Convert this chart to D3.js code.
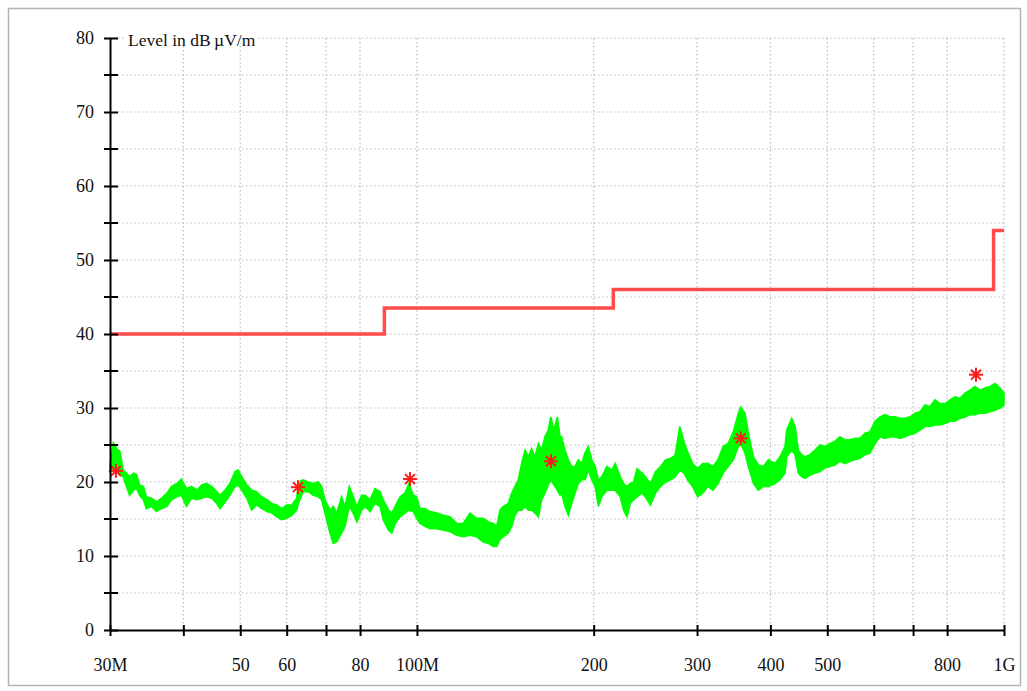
<!DOCTYPE html>
<html>
<head>
<meta charset="utf-8">
<script src="https://cdn.jsdelivr.net/npm/d3@7"></script>
<style>
  body { margin: 0; background: #fff; }
  text { font-family: "Liberation Serif", "Times New Roman", serif; }
</style>
</head>
<body>
<div id="chart"></div>
<script>
// x ticks (MHz) and their labels
var xTicks  = [30, 40, 50, 60, 70, 80, 100, 200, 300, 400, 500, 600, 700, 800, 1000];
var xLabels = ["30M", "", "50", "60", "", "80", "100M", "200", "300", "400", "500", "", "", "800", "1G"];
var yMajor = [0, 10, 20, 30, 40, 50, 60, 70, 80];
var yMinor = [5, 15, 25, 35, 45, 55, 65, 75];

// limit line (step after)
var limitFreq  = [30, 88, 216, 960, 1000];
var limitLevel = [40, 43.5, 46, 54, 54];

// final measurement points
var markerFreq  = [30.7, 62.7, 97.3, 169.2, 356.0, 896];
var markerLevel = [21.5, 19.3, 20.4, 22.8, 25.9, 34.5];

// preview scan, upper / lower envelope of the noisy trace
var traceFreq = [30.0, 30.4, 30.8, 31.2, 31.6, 32.0, 32.4, 32.9, 33.3, 33.7, 34.2, 34.6, 35.3, 36.0, 36.7, 37.5, 38.2, 39.0, 39.7, 40.5,
  41.3, 42.2, 43.0, 43.8, 44.7, 45.6, 46.2, 47.1, 48.0, 49.0, 49.6, 50.3, 51.3, 52.3, 53.3, 54.4, 55.5, 56.6, 57.7, 58.8,
  60.0, 61.2, 62.4, 62.8, 64.0, 65.3, 66.6, 67.9, 68.8, 69.7, 71.1,
  72.0, 73.0, 74.4, 75.4, 76.7, 77.9, 79.0, 80.5, 81.6, 83.2, 84.8, 86.5, 87.6, 89.4, 90.6, 91.8, 93.6, 95.4, 96.9, 98.6,
  99.9, 101.2, 103.2, 105.3, 108.1, 110.9, 113.8, 116.9, 119.9, 123.1, 126.4, 129.7, 132.3, 134.9, 136.7, 138.5, 140.3, 143.1, 145.0, 146.9,
  148.8, 150.8, 152.8, 154.8, 156.8, 158.9, 161.0, 163.1, 165.2, 167.4, 169.0, 171.2, 173.4, 175.3,
  176.4, 178.7, 181.1, 183.5, 185.9, 188.3, 190.8, 193.3, 195.8, 198.5, 201.1, 203.7, 206.4, 210.6, 214.8, 217.6, 222.0, 224.9, 227.9, 230.9,
  233.9, 237.0, 241.8, 244.9, 249.9, 254.9, 260.0, 265.3, 270.6, 275.2, 280.4, 285.1, 289.0, 294.8, 300.7, 306.8, 313.0, 319.3, 325.7, 332.3,
  339.0, 345.8, 352.8, 356.0, 362.0, 366.9, 374.2, 381.6, 389.1, 396.8, 407.3, 415.4, 423.6,
  426.4, 434.9, 440.6, 446.3, 452.3, 458.2, 467.3, 476.5, 486.0, 495.6, 505.4, 515.4, 525.6, 536.0, 546.6, 557.5, 568.5, 579.8, 591.2, 603.0,
  614.9, 627.1, 639.5, 652.2, 665.1, 678.2, 691.7, 705.4, 719.3, 733.6, 748.1, 762.9, 778.0, 793.5, 809.2, 825.2, 841.5, 858.2, 875.2, 892.6,
  910.2, 928.3, 946.6, 965.4, 984.5, 1000];
var traceMax = [22.6, 25.3, 24.5, 24.1, 21.6, 21.2, 20.7, 21.2, 21.0, 19.6, 19.4, 18.0, 17.8, 17.3, 17.8, 18.5, 19.4, 19.8, 20.4, 19.1,
  19.4, 18.9, 19.6, 19.8, 19.4, 18.7, 18.2, 18.9, 19.8, 21.4, 21.6, 20.7, 19.6, 18.9, 18.7, 18.0, 17.6, 17.1, 16.9, 16.4,
  16.9, 16.9, 17.8, 20.0, 20.3, 20.0, 19.8, 20.0, 19.4, 17.6, 16.2,
  16.7, 15.8, 18.0, 16.7, 19.4, 18.0, 16.7, 18.2, 18.2, 17.6, 19.1, 18.7, 17.6, 16.2, 15.8, 16.7, 18.0, 18.5, 19.8, 18.2,
  18.0, 16.4, 16.4, 16.0, 15.8, 15.5, 15.3, 14.4, 14.4, 15.8, 15.1, 15.1, 14.6, 14.4, 14.0, 16.2, 16.7, 17.1, 18.5, 19.4,
  20.3, 22.5, 24.3, 23.4, 24.5, 23.4, 25.2, 24.3, 26.1, 27.0, 28.8, 27.0, 28.8, 26.1,
  26.1, 24.3, 23.0, 22.1, 22.1, 23.0, 22.5, 23.9, 24.8, 23.0, 22.1, 20.3, 20.7, 22.1, 21.6, 22.5, 20.7, 19.8, 19.4, 19.8,
  20.0, 21.8, 21.2, 20.7, 19.8, 21.4, 22.1, 23.0, 23.2, 23.6, 27.5, 25.4, 24.1, 22.5, 21.8, 22.5, 22.5, 22.1, 23.0, 24.8,
  25.2, 26.8, 29.3, 30.1, 29.3, 26.6, 23.4, 22.3, 22.1, 23.0, 22.5, 23.4, 24.8,
  27.0, 28.6, 27.5, 24.3, 23.7, 23.4, 23.7, 24.3, 25.0, 24.8, 25.2, 25.5, 26.1, 25.7, 25.7, 25.9, 25.9, 26.6, 26.8, 28.2,
  28.8, 29.1, 28.8, 28.8, 28.6, 28.6, 28.8, 29.3, 29.5, 30.4, 30.2, 31.1, 30.6, 30.6, 31.1, 31.5, 31.3, 32.0, 32.4, 32.9,
  32.4, 32.7, 32.9, 33.3, 32.7, 32.0];
var traceMin = [21.2, 22.1, 21.6, 20.9, 20.7, 19.4, 18.2, 18.9, 19.1, 18.2, 17.6, 16.4, 16.7, 16.0, 16.4, 16.7, 17.6, 18.0, 18.2, 16.7,
  17.8, 17.6, 17.8, 18.0, 17.8, 17.1, 16.4, 17.3, 18.2, 19.4, 19.6, 18.9, 17.8, 16.2, 16.9, 16.4, 16.0, 15.8, 15.3, 14.9,
  15.1, 15.5, 16.2, 17.1, 18.7, 18.7, 18.2, 18.0, 17.6, 15.8, 13.1,
  11.7, 11.9, 13.1, 14.0, 16.7, 15.8, 14.6, 16.2, 16.7, 16.0, 17.1, 16.7, 14.9, 13.5, 13.1, 14.4, 15.3, 15.8, 16.2, 16.0,
  15.1, 14.4, 14.0, 13.7, 13.7, 13.5, 13.3, 12.8, 12.6, 12.8, 12.6, 11.9, 11.7, 11.3, 11.3, 12.2, 12.6, 13.1, 14.0, 15.5,
  16.2, 16.2, 16.7, 16.2, 16.2, 15.8, 15.3, 17.6, 18.5, 19.6, 20.3, 19.6, 18.9, 18.2,
  18.5, 16.7, 15.5, 17.1, 18.5, 19.8, 20.3, 20.3, 21.6, 20.3, 19.4, 16.7, 18.0, 18.9, 18.9, 18.9, 18.0, 16.2, 15.3, 17.1,
  17.6, 18.0, 18.5, 18.0, 16.9, 18.5, 19.4, 20.0, 20.3, 20.7, 21.6, 21.2, 20.3, 19.4, 18.0, 18.5, 19.4, 18.9, 19.8, 21.2,
  22.1, 23.0, 24.8, 25.2, 23.9, 22.1, 19.8, 18.9, 19.4, 19.4, 19.8, 20.3, 21.2,
  23.4, 24.3, 23.7, 21.2, 20.7, 20.5, 20.9, 21.2, 21.4, 21.9, 22.1, 22.3, 22.8, 22.5, 22.8, 23.0, 23.2, 23.7, 23.9, 25.2,
  26.1, 25.9, 26.1, 26.1, 25.9, 26.1, 26.4, 26.6, 27.0, 27.5, 27.5, 27.7, 27.7, 27.9, 28.2, 28.2, 28.6, 28.8, 29.1, 29.1,
  29.3, 29.3, 29.5, 29.7, 30.0, 30.4];

var W = 1027, H = 691;
var plotLeft = 110, plotRight = 1004, plotTop = 38, plotBottom = 630;

var svg = d3.select("#chart").append("svg")
  .attr("width", W).attr("height", H);

// outer frame
svg.append("rect")
  .attr("x", 8.5).attr("y", 8.5).attr("width", 1012).attr("height", 677)
  .attr("fill", "#fff").attr("stroke", "#b4b4b4").attr("stroke-width", 1.5);

var x = d3.scaleLog().domain([30, 1000]).range([plotLeft, plotRight]);
var y = d3.scaleLinear().domain([0, 80]).range([plotBottom, plotTop]);

// grid
var grid = svg.append("g").attr("stroke", "#bbbbbb").attr("stroke-width", 1.2)
  .attr("stroke-dasharray", "1.5,2.5");
grid.selectAll(".hg").data(yMajor.concat(yMinor).filter(function (d) { return d > 0; }))
  .enter().append("line")
  .attr("x1", plotLeft).attr("x2", plotRight)
  .attr("y1", function (d) { return y(d); }).attr("y2", function (d) { return y(d); });
grid.selectAll(".vg").data(xTicks.slice(1))
  .enter().append("line")
  .attr("y1", plotTop).attr("y2", plotBottom)
  .attr("x1", function (d) { return x(d); }).attr("x2", function (d) { return x(d); });

// limit line
var limitPts = limitFreq.map(function (f, i) { return [f, limitLevel[i]]; });
svg.append("path")
  .attr("d", d3.line().curve(d3.curveStepAfter)
    .x(function (d) { return x(d[0]); }).y(function (d) { return y(d[1]); })(limitPts))
  .attr("fill", "none").attr("stroke", "#ff4b4b").attr("stroke-width", 3.5);

// trace band
var tracePts = traceFreq.map(function (f, i) { return [f, traceMax[i], traceMin[i]]; });
var area = d3.area()
  .x(function (d) { return x(d[0]); })
  .y0(function (d) { return y(d[2]); })
  .y1(function (d) { return y(d[1]); });
svg.append("path").attr("d", area(tracePts))
  .attr("fill", "#00ff00").attr("stroke", "#00ff00").attr("stroke-width", 1.6)
  .attr("stroke-linejoin", "miter");

// markers
var arm = 7;
var mk = svg.append("g").attr("stroke", "#ff1a1a").attr("stroke-width", 2);
markerFreq.forEach(function (f, i) {
  var cx = x(f), cy = y(markerLevel[i]);
  [0, 45, 90, 135].forEach(function (a) {
    var r = a * Math.PI / 180;
    mk.append("line")
      .attr("x1", cx - arm * Math.cos(r)).attr("y1", cy - arm * Math.sin(r))
      .attr("x2", cx + arm * Math.cos(r)).attr("y2", cy + arm * Math.sin(r));
  });
});

// x axis
var xAxis = svg.append("g").attr("transform", "translate(0," + plotBottom + ")")
  .call(d3.axisBottom(x).tickValues(xTicks)
    .tickFormat(function (d, i) { return xLabels[i]; }).tickSizeOuter(0).tickPadding(22));
xAxis.select(".domain").attr("stroke", "#000").attr("stroke-width", 2);
xAxis.selectAll(".tick line").attr("y1", -5).attr("y2", 6).attr("stroke-width", 2);
xAxis.selectAll(".tick text").attr("font-size", 18).attr("fill", "#111")
  .attr("font-family", "Liberation Serif, serif");

// y axis
var yAxis = svg.append("g").attr("transform", "translate(" + plotLeft + ",0)")
  .call(d3.axisLeft(y).tickValues(yMajor).tickSizeOuter(0).tickPadding(10));
yAxis.select(".domain").attr("stroke", "#000").attr("stroke-width", 2);
yAxis.selectAll(".tick line").attr("x1", -6).attr("x2", 8).attr("stroke-width", 2);
yAxis.selectAll(".tick text").attr("font-size", 18).attr("fill", "#111")
  .attr("font-family", "Liberation Serif, serif");
yAxis.selectAll(".minor").data(yMinor).enter().append("line")
  .attr("x1", -6).attr("x2", 8)
  .attr("y1", function (d) { return y(d); }).attr("y2", function (d) { return y(d); })
  .attr("stroke", "#000").attr("stroke-width", 2);

// axis title
var title = svg.append("g");
var tt = title.append("text").attr("x", 128).attr("y", y(80) + 8)
  .attr("font-size", 17.5).attr("fill", "#111")
  .text("Level in dB\u2009\u00b5V/m");
var bb = tt.node().getBBox();
title.insert("rect", "text").attr("x", bb.x - 2).attr("y", y(80) - 3)
  .attr("width", bb.width + 4).attr("height", 8).attr("fill", "#fff");
</script>
</body>
</html>
